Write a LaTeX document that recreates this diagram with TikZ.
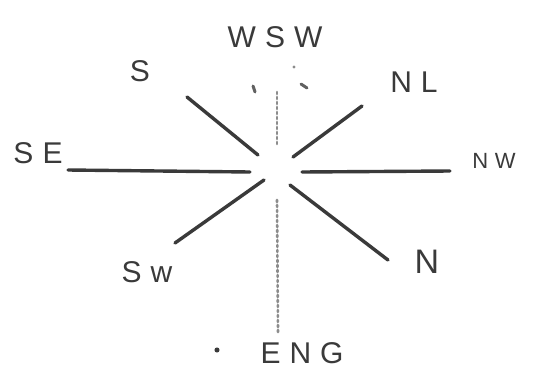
\documentclass[tikz,border=0pt]{standalone}
\usepackage{fontspec}
\setmainfont{Liberation Sans}
\newfontfamily\handfont[LetterSpace=30]{Liberation Sans}
\usepackage{xcolor}
\usetikzlibrary{calc}
\definecolor{Ink}{HTML}{3A3A3A}
\definecolor{Faint}{HTML}{8C8C8C}

\begin{document}
\begin{tikzpicture}[x=1pt,y=-1pt,
  ray/.style={draw=Ink,line width=3.4pt,line cap=round},
  faintray/.style={draw=Faint,line width=2.6pt,dash pattern=on 2pt off 3pt,line cap=round},
  tick/.style={draw=Ink!80,line width=3pt,line cap=round},
  tag/.style={text=Ink,font=\handfont\fontsize{30}{30}\selectfont,inner sep=0pt}
]
\useasboundingbox[fill=white] (0,0) rectangle (534,375);
% Ends of the rays.
\coordinate (c) at (276,170);
\coordinate (wl) at (68,170);  \coordinate (wi) at (250,172);
\coordinate (el) at (450,171); \coordinate (ei) at (302,172);
\coordinate (nt) at (277,92);  \coordinate (ni) at (277,145);
\coordinate (sb) at (278,332); \coordinate (si) at (277,200);
\coordinate (nwl) at (187,97); \coordinate (nwi) at (258,155);
\coordinate (nel) at (362,106); \coordinate (nei) at (293,157);
\coordinate (swl) at (175,243); \coordinate (swi) at (264,180);
\coordinate (sel) at (388,260); \coordinate (sei) at (290,185);
\draw[ray] (wl) -- (wi); \draw[ray] (ei) -- (el);
\draw[ray] (nwl) -- (nwi); \draw[ray] (nei) -- (nel);
\draw[ray] (swl) -- (swi); \draw[ray] (sei) -- (sel);
\draw[faintray] (nt) -- (ni); \draw[faintray] (si) -- (sb);
\coordinate (m1a) at (253,86); \coordinate (m1b) at (255,92);
\coordinate (m2a) at (301,84); \coordinate (m2b) at (307,88);
\draw[tick] (m1a) -- (m1b); \draw[tick] (m2a) -- (m2b);
\node[circle,fill=Faint,inner sep=1.2pt] (d1) at (294,67) {};
\node[circle,fill=Ink,inner sep=1.8pt] (d2) at (217,350) {};

% Labels round the rose.
\node[tag] (wsw) at (275,37) {WSW};
\node[tag] (s) at (140,71) {S};
\node[tag] (nl) at (414,82) {NL};
\node[tag] (se) at (38,153) {SE};
\node[tag,font=\handfont\fontsize{22}{22}\selectfont] (nw) at (494,161) {NW};
\node[tag,font=\handfont\fontsize{34}{34}\selectfont] (n) at (427,262) {N};
\node[tag] (sw) at (147,272) {Sw};
\node[tag] (eng) at (302,353) {ENG};
\end{tikzpicture}
\end{document}
